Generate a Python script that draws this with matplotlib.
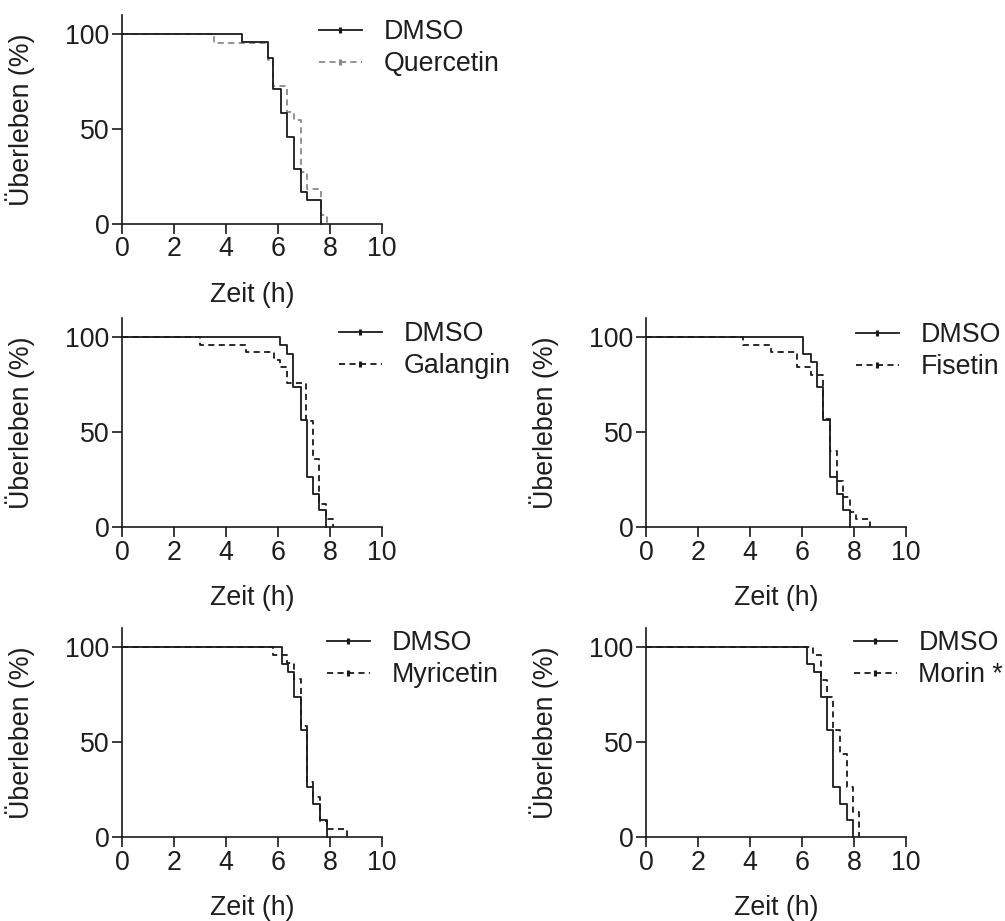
import numpy as np
import matplotlib
matplotlib.use("Agg")
import matplotlib.pyplot as plt
from matplotlib.lines import Line2D

plt.rcParams['font.family'] = ['Liberation Sans', 'DejaVu Sans']

# ---- data (time in h, survival in %) ----
dmso_q_t = [4.6, 5.6, 5.82, 6.12, 6.36, 6.63, 6.87, 7.1, 7.65]
dmso_q_s = [95.8, 87.5, 70.8, 58.3, 45.8, 29.2, 16.7, 12.5, 0]
quercetin_t = [3.55, 5.6, 5.82, 6.36, 6.63, 6.87, 7.1, 7.65, 7.9]
quercetin_s = [95.5, 86.4, 72.7, 59.1, 54.5, 27.3, 18.2, 4.5, 0]

dmso_g_t = [6.08, 6.33, 6.59, 6.87, 7.1, 7.36, 7.59, 7.85]
dmso_g_s = [95.7, 91.3, 73.9, 56.5, 26.1, 17.4, 8.7, 0]
galangin_t = [3.0, 4.77, 5.85, 6.08, 6.33, 7.08, 7.33, 7.59, 7.85, 8.1]
galangin_s = [96, 92, 88, 84, 76, 56, 36, 12, 4, 0]

dmso_f_t = [6.03, 6.33, 6.56, 6.82, 7.08, 7.33, 7.56, 7.85]
dmso_f_s = [91.3, 87.0, 73.9, 56.5, 26.1, 17.4, 8.7, 0]
fisetin_t = [3.74, 4.8, 5.8, 6.33, 6.82, 7.08, 7.33, 7.56, 7.85, 8.08, 8.6]
fisetin_s = [96, 92, 84, 80, 57, 40, 24, 16, 8, 4, 0]

dmso_my_t = [6.14, 6.37, 6.62, 6.87, 7.13, 7.36, 7.62, 7.9]
dmso_my_s = [91.3, 87.0, 73.9, 56.5, 26.1, 17.4, 8.7, 0]
myricetin_t = [5.82, 6.33, 6.62, 6.87, 7.13, 7.36, 7.62, 7.9, 8.67]
myricetin_s = [95.8, 91.7, 83.3, 58.3, 29.2, 20.8, 8.3, 4.2, 0]

dmso_mo_t = [6.18, 6.47, 6.72, 6.97, 7.2, 7.46, 7.72, 7.95]
dmso_mo_s = [91.3, 87.0, 73.9, 56.5, 26.1, 17.4, 8.7, 0]
morin_t = [6.44, 6.72, 6.97, 7.2, 7.46, 7.72, 7.95, 8.19]
morin_s = [95.7, 82.6, 73.9, 56.5, 43.5, 26.1, 13.0, 0]

x_ticks = [0, 2, 4, 6, 8, 10]
y_ticks = [0, 50, 100]
x_label = "Zeit (h)"
y_label = "Überleben (%)"

panels = [
    # (left px, bottom px, dmso, treatment, label, color, legend x px, legend row y px)
    (122, 224, (dmso_q_t, dmso_q_s), (quercetin_t, quercetin_s), "Quercetin", "#8a8a8a", 319, 32),
    (122, 527, (dmso_g_t, dmso_g_s), (galangin_t, galangin_s), "Galangin", "#1a1a1a", 339, 334),
    (646, 527, (dmso_f_t, dmso_f_s), (fisetin_t, fisetin_s), "Fisetin", "#1a1a1a", 856, 335),
    (122, 837, (dmso_my_t, dmso_my_s), (myricetin_t, myricetin_s), "Myricetin", "#1a1a1a", 327, 643),
    (646, 837, (dmso_mo_t, dmso_mo_s), (morin_t, morin_s), "Morin *", "#1a1a1a", 854, 643),
]

W, H = 1005, 921
fig = plt.figure(figsize=(W / 100, H / 100), dpi=100)
txt = "#1e1e1e"
fs = 19.3
dash = (0, (3.4, 2.4))

for left, bottom, dm, tr, lab, col, lx, ly in panels:
    ax = fig.add_axes([left / W, 1 - bottom / H, 260 / W, 209 / H])
    ax.step(np.r_[0, dm[0]], np.r_[100, dm[1]], where='post', color="#1a1a1a", lw=1.3,
            clip_on=False, zorder=3)
    ax.step(np.r_[0, tr[0]], np.r_[100, tr[1]], where='post', color=col, lw=1.3,
            ls=dash, clip_on=False, zorder=2)
    ax.set_xlim(0, 10)
    ax.set_ylim(0, 110)
    ax.set_xticks(x_ticks)
    ax.set_yticks(y_ticks)
    for s in ['top', 'right']:
        ax.spines[s].set_visible(False)
    for s in ['left', 'bottom']:
        ax.spines[s].set_linewidth(1.2)
        ax.spines[s].set_color("#1a1a1a")
    ax.tick_params(direction='out', length=7, width=1.2, labelsize=fs, colors="#1a1a1a",
                   labelcolor=txt, pad=2)
    ax.set_xlabel(x_label, fontsize=fs, color=txt, labelpad=14)
    ax.set_ylabel(y_label, fontsize=fs, color=txt, labelpad=22)
    handles = [
        Line2D([], [], color="#1a1a1a", lw=1.3, marker='|', markersize=5, mew=2.2),
        Line2D([], [], color=col, lw=1.3, ls=dash, marker='|', markersize=4, mew=2.2),
    ]
    ax.legend(handles, ["DMSO", lab], loc='upper left',
              bbox_to_anchor=(lx / W, 1 - (ly - 13) / H), bbox_transform=fig.transFigure,
              frameon=False, fontsize=fs, handlelength=1.6, handletextpad=0.8,
              borderpad=0, borderaxespad=0, labelspacing=0.22, numpoints=1,
              labelcolor=txt)

fig.savefig("out.png", dpi=100)
